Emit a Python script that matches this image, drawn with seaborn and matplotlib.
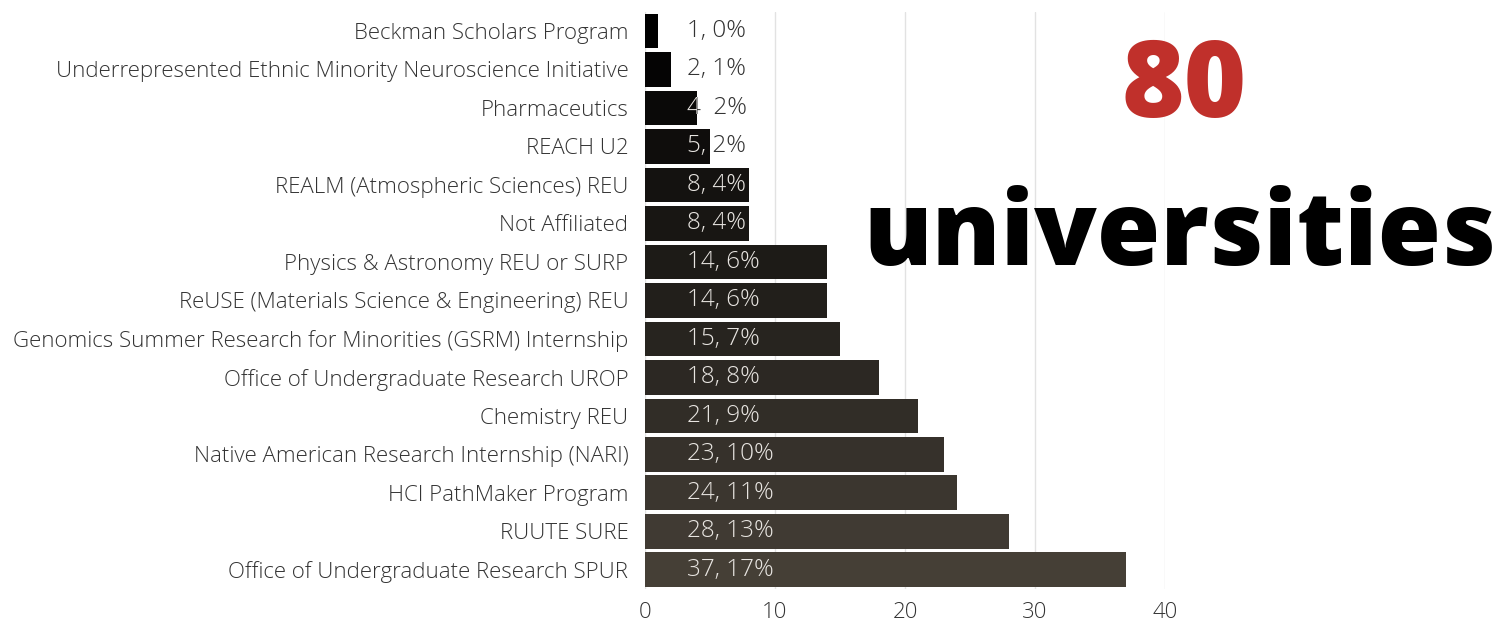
import matplotlib
matplotlib.use("Agg")
import matplotlib.pyplot as plt
import matplotlib.transforms as mtransforms
import seaborn as sns
import pandas as pd
from matplotlib import font_manager

programs = [
    "Beckman Scholars Program",
    "Underrepresented Ethnic Minority Neuroscience Initiative",
    "Pharmaceutics",
    "REACH U2",
    "REALM (Atmospheric Sciences) REU",
    "Not Affiliated",
    "Physics & Astronomy REU or SURP",
    "ReUSE (Materials Science & Engineering) REU",
    "Genomics Summer Research for Minorities (GSRM) Internship",
    "Office of Undergraduate Research UROP",
    "Chemistry REU",
    "Native American Research Internship (NARI)",
    "HCI PathMaker Program",
    "RUUTE SURE",
    "Office of Undergraduate Research SPUR",
]
counts = [1, 2, 4, 5, 8, 8, 14, 14, 15, 18, 21, 23, 24, 28, 37]
percents = [0, 1, 2, 2, 4, 4, 6, 6, 7, 8, 9, 10, 11, 13, 17]
bar_labels = ["1, 0%", "2, 1%", "4  2%", "5, 2%", "8, 4%", "8, 4%", "14, 6%", "14, 6%",
              "15, 7%", "18, 8%", "21, 9%", "23, 10%", "24, 11%", "28, 13%", "37, 17%"]
x_ticks = [0, 10, 20, 30, 40]
big_number = "80"
big_word = "universities"

df = pd.DataFrame({"program": programs, "count": counts})

sns.set_theme(style="white")
names = {f.name for f in font_manager.fontManager.ttflist}
fam = "Open Sans" if "Open Sans" in names else "DejaVu Sans"
plt.rcParams["font.family"] = [fam, "DejaVu Sans"]

fig = plt.figure(figsize=(15.02, 6.22), dpi=100)
ax = fig.add_axes([645 / 1502, 1 - 589 / 622, 520 / 1502, (589 - 11.75) / 622])

palette = sns.blend_palette(["#000000", "#473f34"], n_colors=len(programs))
sns.barplot(data=df, y="program", x="count", hue="program", palette=palette,
            legend=False, orient="h", width=0.9, ax=ax, zorder=2, edgecolor="none")

ax.set_xlim(0, 40)
ax.set_ylim(len(programs) - 0.5, -0.5)
ax.set_xticks(x_ticks)
ax.xaxis.grid(True, color="#e2e2e2", linewidth=1, zorder=0)
ax.set_axisbelow(True)
for s in ax.spines.values():
    s.set_visible(False)
ax.set_xlabel("")
ax.set_ylabel("")
ax.tick_params(axis="y", length=0, pad=12, labelsize=16, labelcolor="#333333")
ax.tick_params(axis="x", length=0, pad=9, labelsize=16, labelcolor="#333333")
for t in ax.get_yticklabels() + ax.get_xticklabels():
    t.set_fontweight("light")

off = mtransforms.offset_copy(ax.transData, fig=fig, x=42, y=0, units="dots")
bars = sorted(ax.patches, key=lambda p: p.get_y())
for i, (lab, p) in enumerate(zip(bar_labels, bars)):
    ax.text(0, i, lab, transform=off, ha="left", va="center", fontsize=17.5,
            color="#333333", fontweight="light", zorder=1)
    t = ax.text(0, i, lab, transform=off, ha="left", va="center", fontsize=17.5,
                color="#e8e5e1", fontweight="light", zorder=3)
    bb = mtransforms.TransformedBbox(
        mtransforms.Bbox.from_extents(p.get_x(), p.get_y(),
                                      p.get_x() + p.get_width(), p.get_y() + p.get_height()),
        ax.transData)
    t.set_clip_box(bb)
    t.set_clip_on(True)

fig.text(1184 / 1502, 1 - 89 / 622, big_number, ha="center", va="center",
         fontsize=77, fontweight="heavy", color="#c0302b")
fig.text(1180 / 1502, 1 - 265 / 622, big_word, ha="center", va="baseline",
         fontsize=74, fontweight="heavy", color="#000000")

fig.savefig("out.png", dpi=100)
